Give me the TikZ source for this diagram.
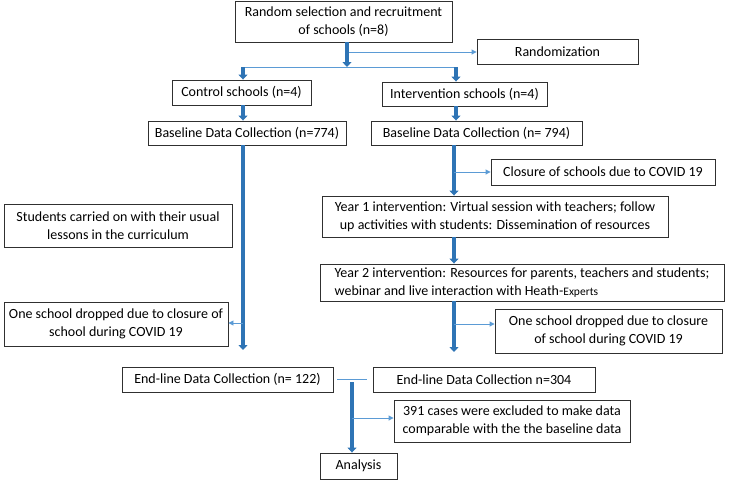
\documentclass[tikz,border=0pt]{standalone}
\usepackage{fontspec}
\setmainfont{Carlito}
\usetikzlibrary{arrows.meta}
\definecolor{thickblue}{HTML}{2E74B5}
\definecolor{thinblue}{HTML}{5B9BD5}
\definecolor{boxline}{HTML}{303030}
\tikzset{
  box/.style={draw=boxline, line width=0.9pt, fill=white, inner sep=0pt, align=center,
    font=\fontsize{14}{18}\selectfont},
  thick arrow/.style={draw=thickblue, line width=3.5pt, -{Triangle[length=5pt,width=9pt]}},
  thin arrow/.style={draw=thinblue, line width=0.9pt, -{Triangle[length=5pt,width=5pt]}},
  thin line/.style={draw=thinblue, line width=0.9pt},
}
\begin{document}
\begin{tikzpicture}[x=1pt,y=-1pt]
\useasboundingbox (0,0) rectangle (730,480);
% boxes
\node[box, minimum width=217pt, minimum height=41pt] (sel) at (343.5,21.5) {Random selection and recruitment\\of schools (n=8)};
\node[box, minimum width=161pt, minimum height=25pt] (rand) at (557.5,51.5) {Randomization};
\node[box, minimum width=139pt, minimum height=25pt] (ctrl) at (241.5,92.5) {Control schools (n=4)};
\node[box, minimum width=165pt, minimum height=24pt] (intv) at (464.5,94) {Intervention schools (n=4)};
\node[box, minimum width=198pt, minimum height=24pt] (baseC) at (247,133) {Baseline Data Collection (n=774)};
\node[box, minimum width=211pt, minimum height=24pt] (baseI) at (476.5,133) {Baseline Data Collection (n= 794)};
\node[box, minimum width=224pt, minimum height=26pt] (closure) at (603,172) {Closure of schools due to COVID 19};
\node[box, minimum width=228pt, minimum height=43pt] (students) at (118,225.5) {Students carried on with their usual\\lessons in the curriculum};
\node[box, minimum width=346pt, minimum height=41pt] (year1) at (495,216.5) {Year 1 intervention: Virtual session with teachers; follow\\up activities with students: Dissemination of resources};
\node[box, minimum width=404pt, minimum height=37pt, align=left] (year2) at (522,282.5) {Year 2 intervention: Resources for parents, teachers and students;\\webinar and live interaction with Heath-{\fontsize{11.5}{12}\selectfont Experts}};
\node[box, minimum width=224pt, minimum height=44pt] (dropC) at (116,324) {One school dropped due to closure of\\school during COVID 19};
\node[box, minimum width=227pt, minimum height=44pt] (dropI) at (608.5,331) {One school dropped due to closure\\of school during COVID 19};
\node[box, minimum width=211pt, minimum height=25pt] (endC) at (227.5,379.5) {End-line Data Collection (n= 122)};
\node[box, minimum width=222pt, minimum height=25pt] (endI) at (484,379.5) {End-line Data Collection n=304};
\node[box, minimum width=236pt, minimum height=42pt] (excl) at (512,421) {391 cases were excluded to make data\\comparable with the the baseline data};
\node[box, minimum width=77pt, minimum height=26pt] (anal) at (358.5,466) {Analysis};
% coordinates
\coordinate (randsrc) at (349,52);
\coordinate (splitL) at (243,67);
\coordinate (splitR) at (456,67);
\coordinate (ctrlEnd) at (243,350);
\coordinate (dropCsrc) at (243,323);
\coordinate (closuresrc) at (454,172);
\coordinate (intvEnd) at (454,352);
\coordinate (dropIsrc) at (454,324);
\coordinate (joinL) at (337,379);
\coordinate (joinR) at (367,379);
\coordinate (mergeTop) at (352,382);
\coordinate (exclsrc) at (352,418);
% connectors
\draw[thick arrow] (sel.south -| 347,0) -- (347,67);
\draw[thin arrow] (randsrc) -- (randsrc -| rand.west);
\draw[thin line] (splitL) -- (splitR);
\draw[thick arrow] (splitL) -- (splitL |- ctrl.north);
\draw[thick arrow] (splitR) -- (splitR |- intv.north);
\draw[thick arrow] (ctrl.south -| 243,0) -- (243,0 |- baseC.north);
\draw[thick arrow] (intv.south -| 456,0) -- (456,0 |- baseI.north);
\draw[thick arrow] (baseC.south -| ctrlEnd) -- (ctrlEnd);
\draw[thin arrow] (dropCsrc) -- (dropCsrc -| dropC.east);
\draw[thick arrow] (baseI.south -| closuresrc) -- (closuresrc |- year1.north);
\draw[thin arrow] (closuresrc) -- (closuresrc -| closure.west);
\draw[thick arrow] (year1.south -| closuresrc) -- (closuresrc |- year2.north);
\draw[thick arrow] (year2.south -| intvEnd) -- (intvEnd);
\draw[thin arrow] (dropIsrc) -- (dropIsrc -| dropI.west);
\draw[thin line] (joinL) -- (joinR);
\draw[thick arrow] (mergeTop) -- (mergeTop |- anal.north);
\draw[thin arrow] (exclsrc) -- (exclsrc -| excl.west);
\end{tikzpicture}
\end{document}
